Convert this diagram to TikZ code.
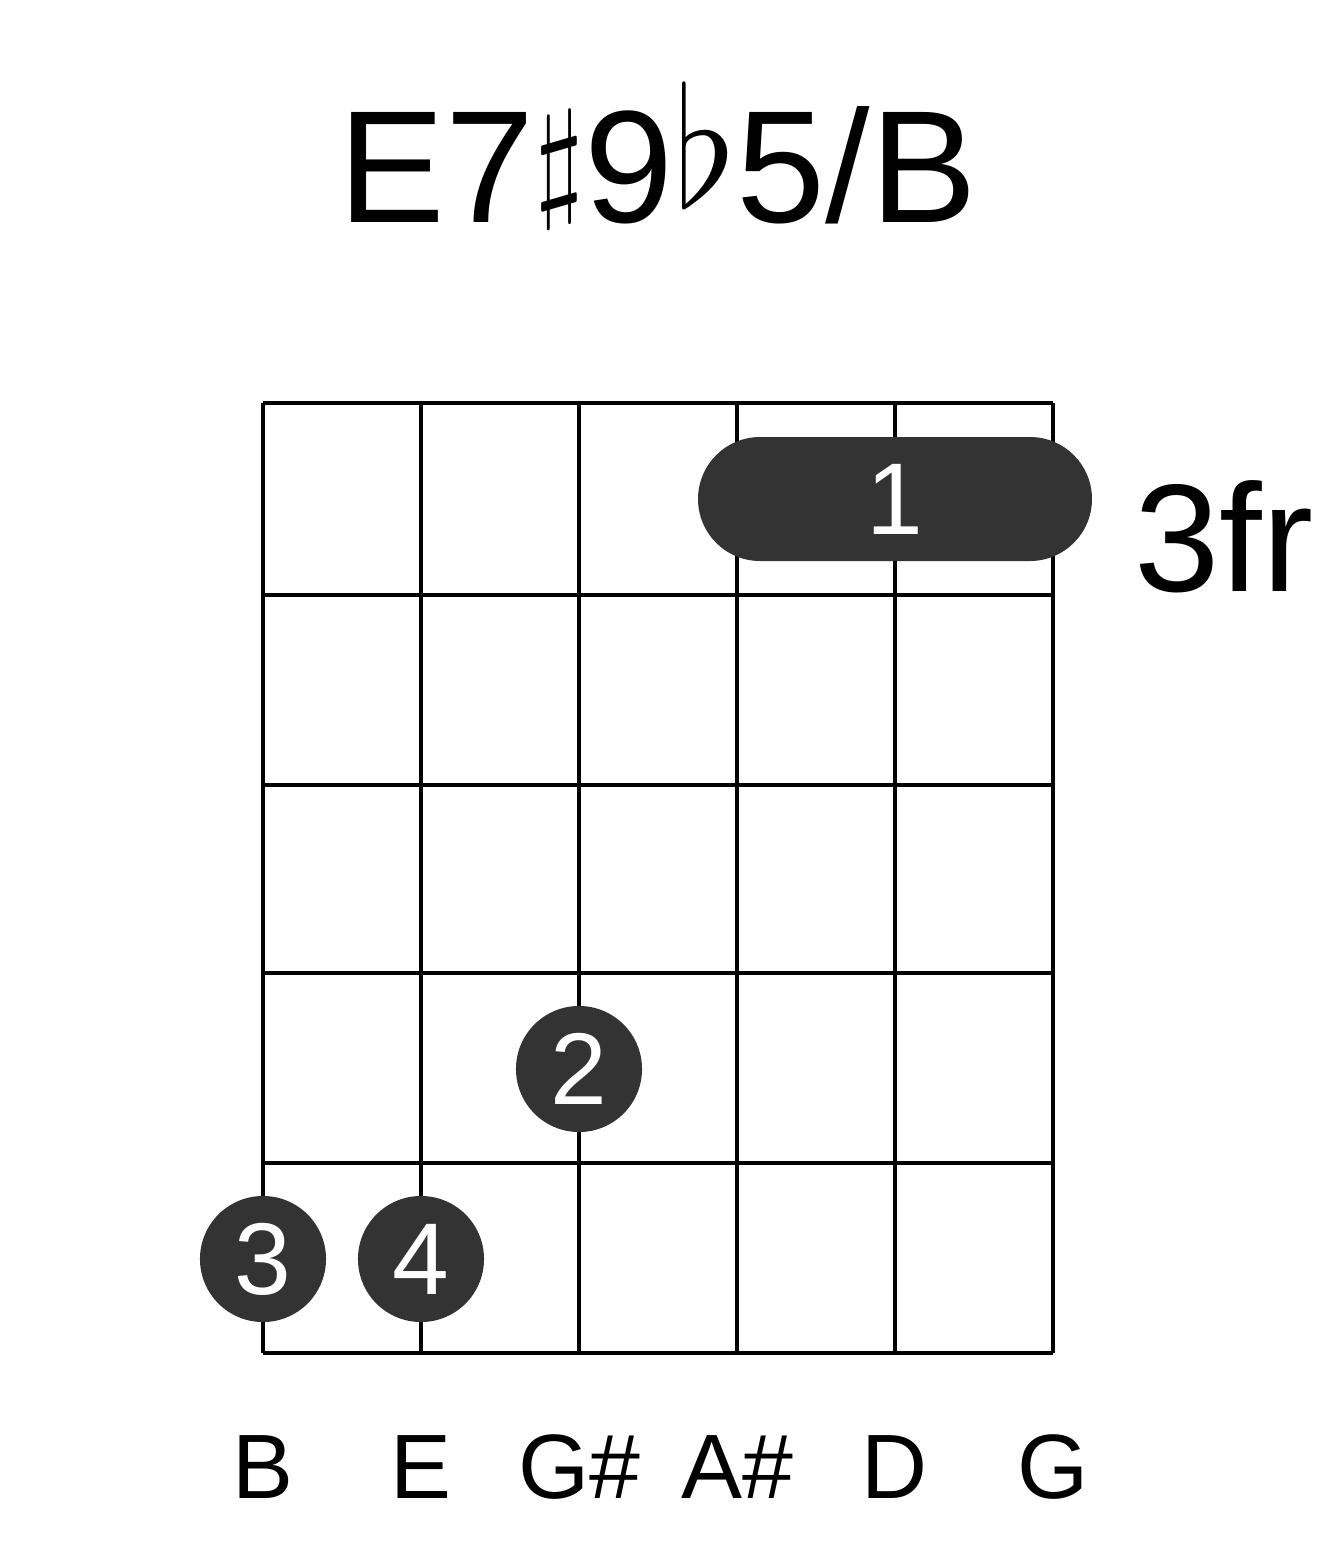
\documentclass[tikz,border=0pt]{standalone}
\usepackage{graphicx}
\usepackage{fontspec}
\setmainfont{Liberation Sans}
\begin{document}
\begin{tikzpicture}[x=0.01cm,y=-0.01cm,
  grid/.style={line width=4.2pt*0.2845},
  dot/.style={circle,fill=black!80,minimum size=126*0.2845pt,inner sep=0pt,text=white,font=\fontsize{29}{30}\selectfont},
  lab/.style={font=\fontsize{26}{28}\selectfont}]
\useasboundingbox (0,0) rectangle (1317,1551);
\foreach \x in {263,421,579,737,895,1053} \draw[grid] (\x,403) -- (\x,1353);
\foreach \y in {403,595,785,973,1163,1353} \draw[grid] (263,\y) -- (1053,\y);
\node (title) at (658,155) {\fontsize{45.5}{48}\selectfont E7\raisebox{0.12em}{\scalebox{1.5}{$\sharp$}}9\raisebox{0.1em}{\scalebox{1.9}{$\flat$}}5/B};
\fill[black!80,rounded corners=0.62cm] (698,437) rectangle (1092,561);
\node[text=white,font=\fontsize{29}{30}\selectfont] (barre) at (895,499) {1};
\node[font=\fontsize{43.6}{45}\selectfont] (fr) at (1224,537) {3fr};
\node[dot] (d2) at (579,1069) {2};
\node[dot] (d3) at (263,1259) {3};
\node[dot] (d4) at (421,1259) {4};
\foreach \x/\t in {263/B,421/E,579/G\#,737/A\#,895/D,1053/G}
  \node[lab] at (\x,1467) {\t};
\end{tikzpicture}
\end{document}
